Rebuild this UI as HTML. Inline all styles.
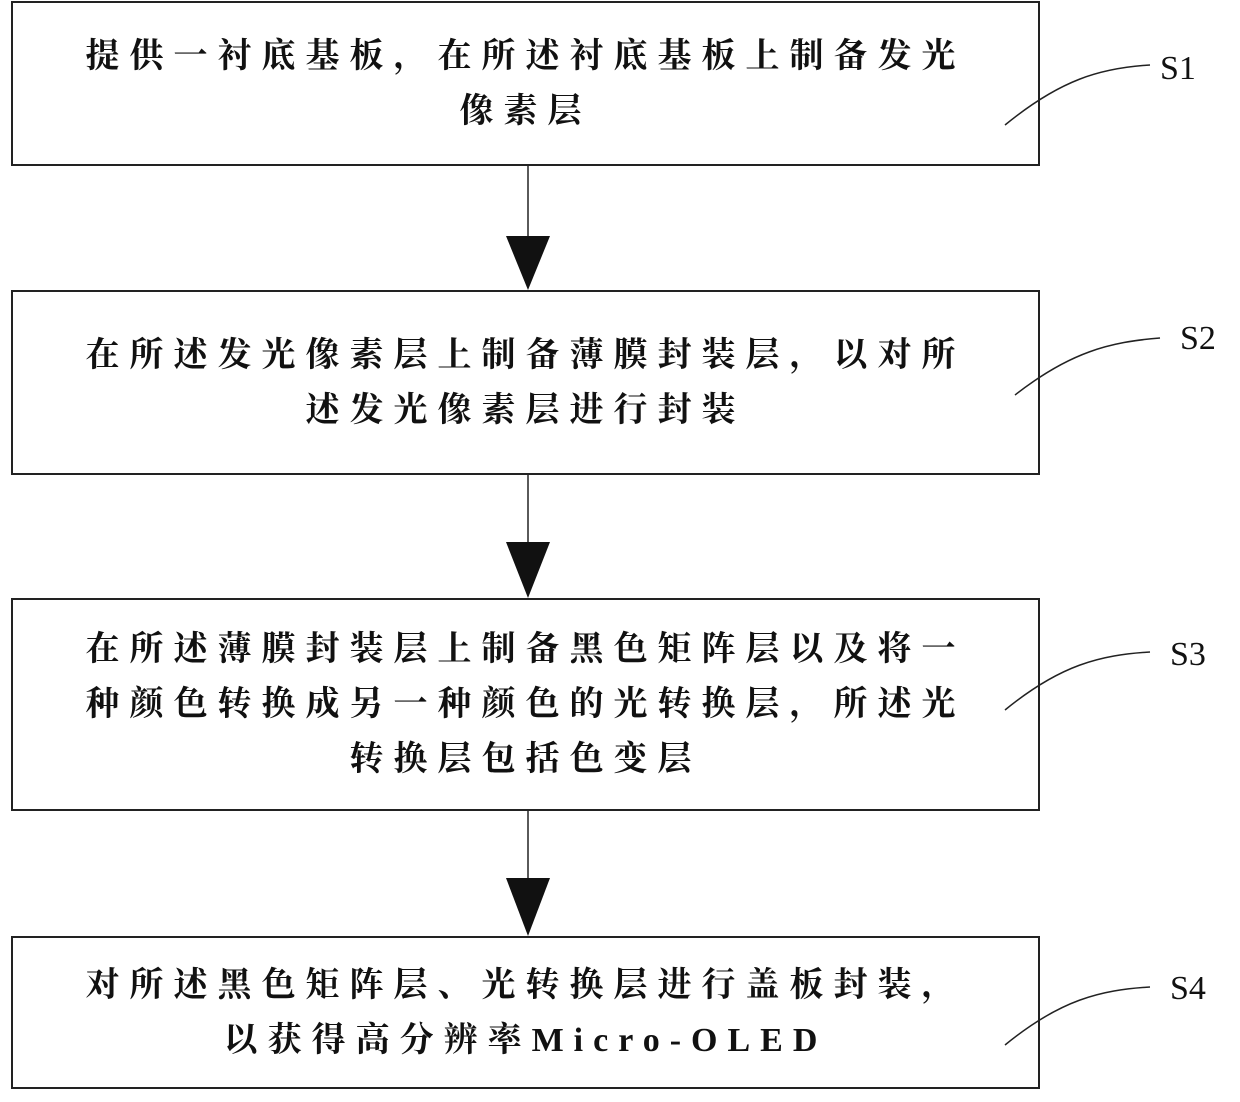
<!DOCTYPE html>
<html><head><meta charset="utf-8"><style>
body{margin:0;background:#fff;width:1240px;height:1102px;position:relative;overflow:hidden}
.b{position:absolute;left:11px;width:1029px;border:2px solid #222;box-sizing:border-box;display:flex;flex-direction:column;justify-content:center;align-items:center;font-family:"Liberation Serif","Noto Serif CJK SC",serif;font-weight:bold;font-size:34px;letter-spacing:10px;line-height:55px;color:#111;text-align:center}
.l{position:absolute;font-family:"Liberation Serif",serif;font-size:34px;color:#111}
</style></head><body>
<div class="b" style="top:1px;height:165px">提供一衬底基板，在所述衬底基板上制备发光<br>像素层</div>
<div class="b" style="top:290px;height:185px">在所述发光像素层上制备薄膜封装层，以对所<br>述发光像素层进行封装</div>
<div class="b" style="top:598px;height:213px">在所述薄膜封装层上制备黑色矩阵层以及将一<br>种颜色转换成另一种颜色的光转换层，所述光<br>转换层包括色变层</div>
<div class="b" style="top:936px;height:153px">对所述黑色矩阵层、光转换层进行盖板封装，<br>以获得高分辨率Micro-OLED</div>
<svg width="1240" height="1102" style="position:absolute;left:0;top:0">
<g stroke="#222" stroke-width="1.5" fill="none">
<line x1="528" y1="166" x2="528" y2="236"/>
<line x1="528" y1="475" x2="528" y2="542"/>
<line x1="528" y1="811" x2="528" y2="878"/>
<path d="M1005 125 C1060 80,1100 68,1150 65"/>
<path d="M1015 395 C1070 352,1110 342,1160 338"/>
<path d="M1005 710 C1060 665,1100 655,1150 652"/>
<path d="M1005 1045 C1060 1000,1100 990,1150 987"/>
</g>
<g fill="#111">
<polygon points="506,236 550,236 528,290"/>
<polygon points="506,542 550,542 528,598"/>
<polygon points="506,878 550,878 528,936"/>
</g>
</svg>
<div class="l" style="left:1160px;top:50px">S1</div>
<div class="l" style="left:1180px;top:320px">S2</div>
<div class="l" style="left:1170px;top:636px">S3</div>
<div class="l" style="left:1170px;top:970px">S4</div>
</body></html>
